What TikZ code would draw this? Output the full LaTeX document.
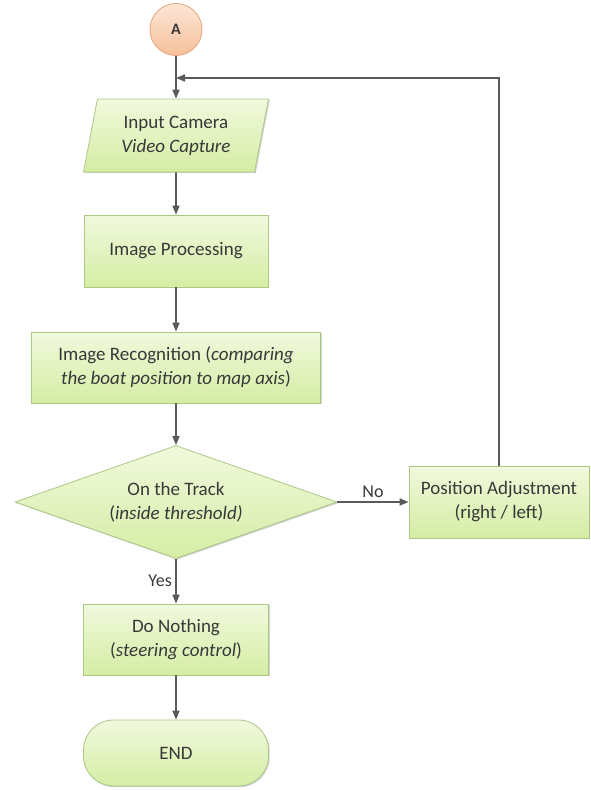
\documentclass[tikz,border=0pt]{standalone}
\usepackage{fontspec}
\setmainfont{Carlito}
\usetikzlibrary{shapes.geometric,arrows.meta,shadows}

\definecolor{boxtop}{HTML}{F1F9DD}
\definecolor{boxbot}{HTML}{D5EDA4}
\definecolor{boxline}{HTML}{ABC887}
\definecolor{conntop}{HTML}{FCE6D6}
\definecolor{connbot}{HTML}{F7C09A}
\definecolor{connline}{HTML}{E3A479}
\definecolor{txt}{HTML}{383838}
\definecolor{wire}{HTML}{595959}

\tikzset{
    flowbox/.style={draw=boxline,line width=0.8pt,top color=boxtop,bottom color=boxbot,
        text=txt,align=center,font=\fontsize{19}{24}\selectfont,inner sep=2pt,
        drop shadow={shadow xshift=1.2pt,shadow yshift=-1.2pt,fill=black,opacity=.18}},
    procbox/.style={flowbox,rectangle},
    iobox/.style={flowbox,trapezium,trapezium left angle=77,trapezium right angle=103,
        trapezium stretches=true},
    decbox/.style={flowbox,diamond,aspect=2.85,inner sep=0pt},
    termbox/.style={flowbox,rectangle,rounded corners=30pt},
    connA/.style={circle,draw=connline,line width=0.8pt,top color=conntop,bottom color=connbot,
        text=txt,font=\fontsize{16}{18}\selectfont\bfseries,minimum size=52pt,inner sep=0pt},
    arr/.style={draw=wire,line width=1.6pt,-{Triangle[length=9pt,width=7pt]}},
    lbl/.style={text=txt,font=\fontsize{18}{20}\selectfont}
}

\begin{document}
\begin{tikzpicture}[x=1pt,y=-1pt]
        \useasboundingbox (0,0) rectangle (590,790);

        %%%%%%% Partenza %%%%%%%
        \node[connA] (a) at (176,29.5) {A};
        \coordinate (back) at (176,78);

        %%%%%%% Blocchi %%%%%%%
        \node[iobox,minimum width=185pt,minimum height=73pt] (camera) at (176,135.5) {Input Camera\\\textit{Video Capture}};
        \node[procbox,minimum width=184pt,minimum height=72pt] (imgproc) at (176,251) {Image Processing};
        \node[procbox,minimum width=289pt,minimum height=71pt] (imgrec) at (176,367.5) {Image Recognition (\textit{comparing}\\\textit{the boat position to map axis})};
        \node[decbox,minimum width=322pt,minimum height=113pt] (ontrack) at (176,502) {On the Track\\(\textit{inside threshold)}};
        \node[procbox,minimum width=180pt,minimum height=72pt] (posadj) at (499,502) {Position Adjustment\\(right / left)};
        \node[procbox,minimum width=185pt,minimum height=71pt] (donothing) at (176,639.5) {Do Nothing\\(\textit{steering control})};
        \node[termbox,minimum width=185pt,minimum height=66pt] (finish) at (176,753) {END};

        %%%%%%% Frecce %%%%%%%
        \draw[arr] (a) -- (camera);
        \draw[arr] (posadj) |- (back);
        \draw[arr] (camera) -- (imgproc);
        \draw[arr] (imgproc) -- (imgrec);
        \draw[arr] (imgrec) -- (ontrack);
        \draw[arr] (ontrack) -- node[lbl,above] {No} (posadj);
        \draw[arr] (ontrack) -- node[lbl,left] {Yes} (donothing);
        \draw[arr] (donothing) -- (finish);
    \end{tikzpicture}
\end{document}
